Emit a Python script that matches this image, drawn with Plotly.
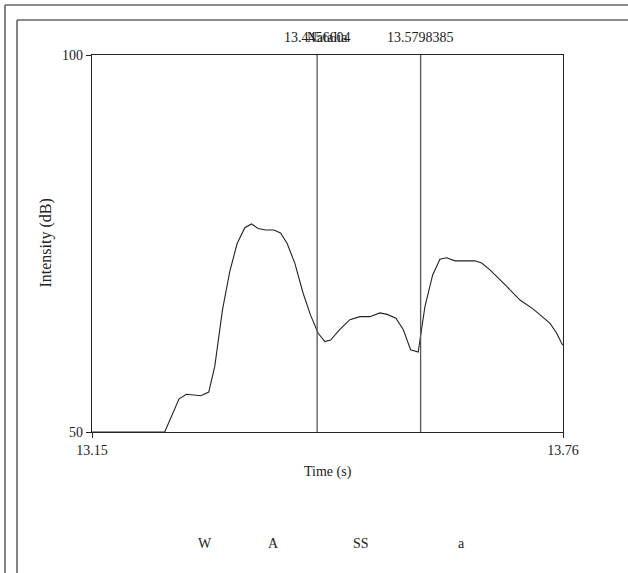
import plotly.graph_objects as go

# ---- data ----
time_s = [13.1537, 13.2480, 13.2666, 13.2762, 13.2948, 13.3051, 13.3129, 13.3229,
          13.3324, 13.3419, 13.3519, 13.3606, 13.3691, 13.3791, 13.3895, 13.3982,
          13.4068, 13.4167, 13.4275, 13.4371, 13.4470, 13.4557, 13.4631, 13.4751,
          13.4881, 13.5011, 13.5141, 13.5270, 13.5365, 13.5478, 13.5573, 13.5669,
          13.5767, 13.5854, 13.5954, 13.6049, 13.6136, 13.6244, 13.6351, 13.6503,
          13.6590, 13.6698, 13.6915, 13.7087, 13.7260, 13.7477, 13.7563, 13.7641]
intensity_db = [50, 50, 54.4, 55.0, 54.8, 55.3, 58.7, 66.2,
                71.3, 75.0, 77.1, 77.6, 77.0, 76.8, 76.8, 76.4,
                75.0, 72.4, 68.4, 65.5, 63.1, 62.0, 62.2, 63.6,
                64.9, 65.3, 65.3, 65.8, 65.6, 65.1, 63.6, 60.9,
                60.6, 66.6, 70.8, 72.9, 73.1, 72.7, 72.7, 72.7,
                72.4, 71.5, 69.3, 67.5, 66.3, 64.4, 63.1, 61.5]

x_range = [13.1537, 13.7645]
x_tick_vals = [13.1537, 13.7645]
x_tick_text = ["13.15", "13.76"]
y_range = [50, 100]
y_tick_vals = [50, 100]
y_tick_text = ["50", "100"]

marker_times = [13.4456604, 13.5798385]
marker_labels = ["13.4456604", "13.5798385"]

segment_labels = ["W", "A", "SS", "a"]
segment_times = [13.3000, 13.3895, 13.5024, 13.6331]

title_text = "Natalia"
x_title = "Time (s)"
y_title = "Intensity (dB)"

FONT = "Liberation Serif"
TXT = "#222222"

# plot area in pixels
W, H = 628, 573
L, R, T, B = 92, 65, 55, 141
PW, PH = W - L - R, H - T - B


def px_x(px):
    return (px - L) / PW


def px_y(py):
    return (H - B - py) / PH


fig = go.Figure()
fig.add_trace(go.Scatter(x=time_s, y=intensity_db, mode="lines",
                         line=dict(color="#222222", width=1.1),
                         showlegend=False, hoverinfo="skip"))

shapes = []
for t in marker_times:
    shapes.append(dict(type="line", xref="x", yref="paper", x0=t, x1=t, y0=0, y1=1,
                       line=dict(color="#555555", width=1.3)))
# outer frames (extend past the window)
for (lx, ty) in [(5, 5), (17, 20)]:
    shapes.append(dict(type="line", xref="paper", yref="paper",
                       x0=px_x(lx), x1=px_x(W + 50), y0=px_y(ty), y1=px_y(ty),
                       line=dict(color="#666666", width=1.6)))
    shapes.append(dict(type="line", xref="paper", yref="paper",
                       x0=px_x(lx), x1=px_x(lx), y0=px_y(ty), y1=px_y(H + 50),
                       line=dict(color="#666666", width=1.6)))

annotations = []
for t, lab in zip(marker_times, marker_labels):
    annotations.append(dict(x=t, xref="x", y=px_y(37), yref="paper", text=lab,
                            showarrow=False, xanchor="center", yanchor="middle",
                            font=dict(family=FONT, size=14, color=TXT)))
annotations.append(dict(x=0.5, xref="paper", y=px_y(37), yref="paper", text=title_text,
                        showarrow=False, xanchor="center", yanchor="middle",
                        font=dict(family=FONT, size=14, color=TXT)))
for t, lab in zip(segment_times, segment_labels):
    annotations.append(dict(x=t, xref="x", y=px_y(543), yref="paper", text=lab,
                            showarrow=False, xanchor="center", yanchor="middle",
                            font=dict(family=FONT, size=14, color=TXT)))
annotations.append(dict(x=0.5, xref="paper", y=px_y(472), yref="paper", text=x_title,
                        showarrow=False, xanchor="center", yanchor="middle",
                        font=dict(family=FONT, size=14, color=TXT)))
annotations.append(dict(x=px_x(45), xref="paper", y=0.5, yref="paper", text=y_title,
                        showarrow=False, xanchor="center", yanchor="middle", textangle=-90,
                        font=dict(family=FONT, size=16, color=TXT)))

fig.update_layout(
    width=W, height=H,
    margin=dict(l=L, r=R, t=T, b=B, pad=0),
    paper_bgcolor="white", plot_bgcolor="white",
    shapes=shapes, annotations=annotations,
    font=dict(family=FONT, size=14, color=TXT),
)
fig.update_xaxes(range=x_range, tickmode="array", tickvals=x_tick_vals, ticktext=x_tick_text,
                 ticks="outside", ticklen=5, tickcolor="#222", showgrid=False, zeroline=False,
                 showline=True, linecolor="#222", linewidth=1.2, mirror=True,
                 tickfont=dict(family=FONT, size=14, color=TXT))
fig.update_yaxes(range=y_range, tickmode="array", tickvals=y_tick_vals, ticktext=y_tick_text,
                 ticks="outside", ticklen=5, tickcolor="#222", showgrid=False, zeroline=False,
                 showline=True, linecolor="#222", linewidth=1.2, mirror=True,
                 tickfont=dict(family=FONT, size=14, color=TXT))

fig.write_html("out.html", config={"displayModeBar": False},
               post_script="document.body.style.margin='0';document.body.style.overflow='hidden';")
